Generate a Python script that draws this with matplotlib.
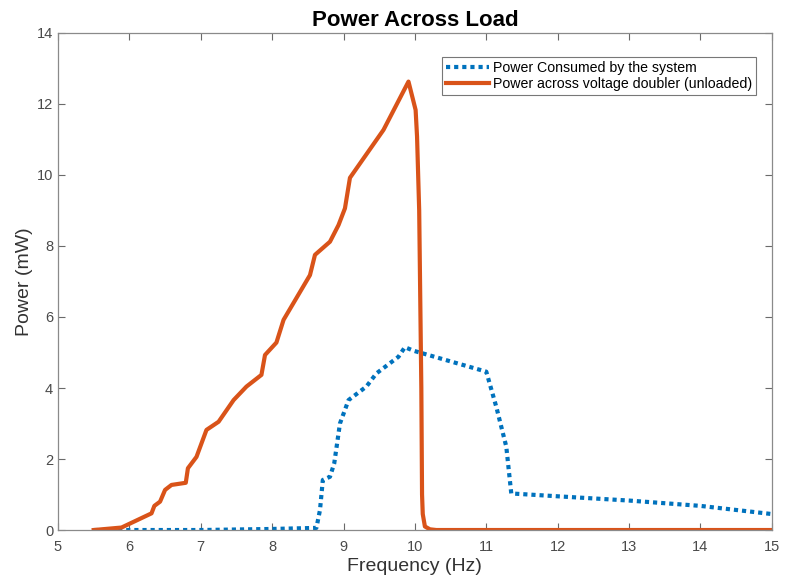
import matplotlib
matplotlib.use("Agg")
import matplotlib.pyplot as plt
from matplotlib.ticker import MultipleLocator

plt.rcParams['font.family'] = ['Liberation Sans', 'DejaVu Sans']

# Power consumed by the system (mW) vs frequency (Hz)
freq_consumed = [5.5, 6.0, 7.0, 8.0, 8.62, 8.67, 8.71, 8.81, 8.87, 8.95, 9.07,
                 9.32, 9.46, 9.77, 9.86, 9.98, 11.0, 11.14, 11.28, 11.35,
                 12.0, 13.0, 14.0, 15.0]
power_consumed = [0.0, 0.0, 0.0, 0.03, 0.06, 0.56, 1.41, 1.5, 1.88, 3.0, 3.66,
                  4.04, 4.41, 4.88, 5.15, 5.05, 4.46, 3.47, 2.35, 1.03,
                  0.95, 0.83, 0.68, 0.45]

# Power across voltage doubler, unloaded (mW) vs frequency (Hz)
freq_doubler = [5.5, 5.89, 6.31, 6.35, 6.43, 6.50, 6.59, 6.79, 6.82, 6.94, 7.08,
                7.25, 7.46, 7.64, 7.85, 7.90, 8.06, 8.16, 8.53, 8.60, 8.81,
                8.93, 9.02, 9.09, 9.56, 9.91, 10.01, 10.03, 10.06, 10.09,
                10.10, 10.11, 10.14, 10.21, 10.3, 15.0]
power_doubler = [0.0, 0.07, 0.47, 0.68, 0.80, 1.13, 1.27, 1.33, 1.74, 2.06, 2.82,
                 3.05, 3.66, 4.04, 4.37, 4.93, 5.28, 5.92, 7.18, 7.75, 8.12,
                 8.59, 9.06, 9.92, 11.27, 12.63, 11.83, 11.08, 9.0, 4.0,
                 1.0, 0.45, 0.1, 0.02, 0.0, 0.0]

fig = plt.figure(figsize=(7.87, 5.78), dpi=100)
ax = fig.add_axes([0.0737, 0.083, 0.907, 0.860])

ax.plot(freq_consumed, power_consumed, color='#0072BD', lw=3.0,
        linestyle=(0, (1, 0.95)), dash_capstyle='butt',
        label='Power Consumed by the system')
ax.plot(freq_doubler, power_doubler, color='#D95319', lw=3.0,
        solid_joinstyle='round',
        label='Power across voltage doubler (unloaded)')

ax.set_xlim(5, 15)
ax.set_ylim(0, 14)
ax.xaxis.set_major_locator(MultipleLocator(1))
ax.yaxis.set_major_locator(MultipleLocator(2))

for s in ax.spines.values():
    s.set_color('#8a8a8a')
    s.set_linewidth(0.9)
ax.tick_params(direction='in', top=True, right=True, length=5, width=0.8,
               color='#6a6a6a', labelcolor='#4a4a4a', labelsize=10.5)
ax.tick_params(axis='x', pad=7)

ax.set_title('Power Across Load', fontsize=16, fontweight='bold', pad=5)
ax.set_xlabel('Frequency (Hz)', fontsize=14, color='#333333', labelpad=3)
ax.set_ylabel('Power (mW)', fontsize=14, color='#333333', labelpad=3)

leg = ax.legend(loc='upper right', bbox_to_anchor=(0.9785, 0.952), fontsize=10.2,
                frameon=True, fancybox=False, borderpad=0.3, labelspacing=0.12,
                handlelength=3.0, handletextpad=0.3, borderaxespad=0)
leg.get_frame().set_edgecolor('#555555')
leg.get_frame().set_linewidth(0.8)

fig.savefig('out.png', dpi=100)
